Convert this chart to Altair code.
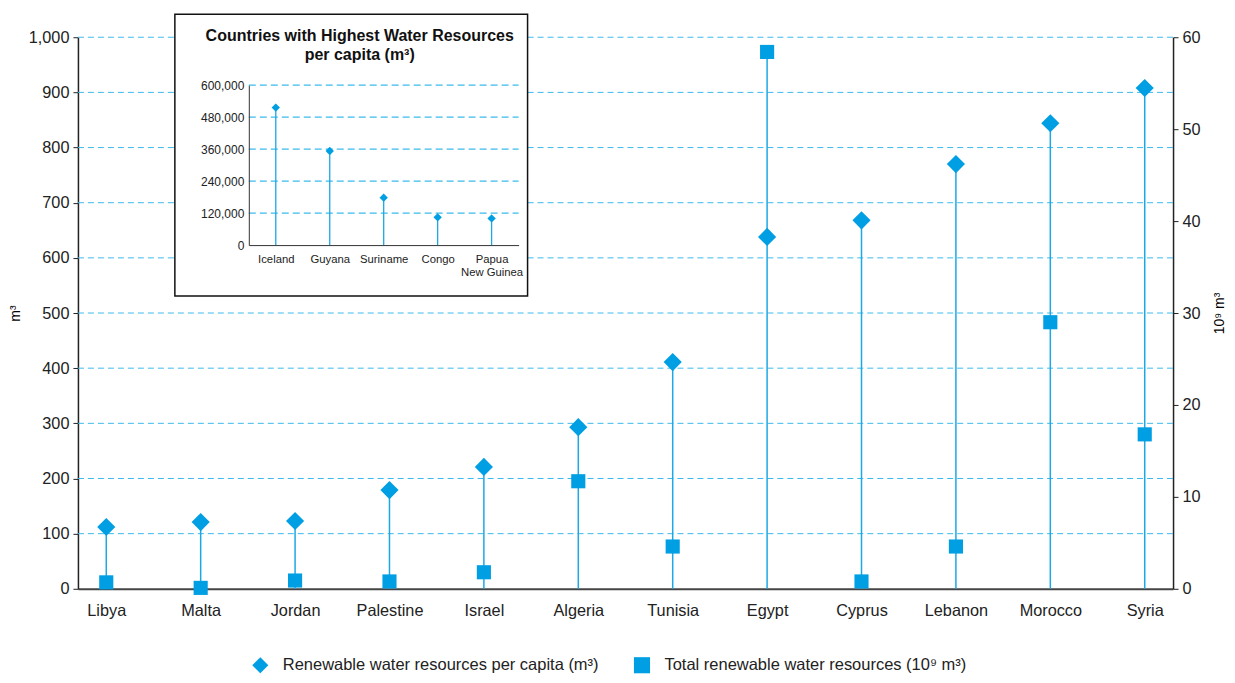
import altair as alt
import pandas as pd

# ---- main chart data ----
countries = ["Libya", "Malta", "Jordan", "Palestine", "Israel", "Algeria",
             "Tunisia", "Egypt", "Cyprus", "Lebanon", "Morocco", "Syria"]
per_capita = [112, 121, 123, 179, 221, 293, 411, 638, 668, 770, 844, 908]
total = [0.7, 0.1, 0.9, 0.8, 1.8, 11.7, 4.6, 58.4, 0.8, 4.6, 29.0, 16.8]
left_ticks = [0, 100, 200, 300, 400, 500, 600, 700, 800, 900, 1000]
right_ticks = [0, 10, 20, 30, 40, 50, 60]
series_names = ["Renewable water resources per capita (m\u00b3)",
                "Total renewable water resources (10\u2079 m\u00b3)"]

# ---- inset data ----
inset_countries = ["Iceland", "Guyana", "Suriname", "Congo", "Papua\nNew Guinea"]
inset_values = [516000, 353000, 178000, 104000, 100000]
inset_ticks = [0, 120000, 240000, 360000, 480000, 600000]
inset_title = "Countries with Highest Water Resources\nper capita (m\u00b3)"

LEFT_MAX, RIGHT_MAX = 1000, 60
W, H = 1096, 552
BLUE = "#009fe3"
STEM = "#1ba8e5"
GRID = "#3dbaec"
FONT = "Liberation Sans"
FS = 16.3

df = pd.DataFrame({"country": countries, "pc": per_capita, "total": total})
df["stem_top"] = [max(p, t / RIGHT_MAX * LEFT_MAX) for p, t in zip(per_capita, total)]
df["s1"] = series_names[0]
df["s2"] = series_names[1]

main_grid_df = pd.DataFrame({"tick": left_ticks[1:]})
inset_df = pd.DataFrame({"country": inset_countries, "value": inset_values})
grid_df = pd.DataFrame({"tick": inset_ticks[1:], "g0": 0, "g1": 1})

xmain = alt.Scale(type="point", domain=countries, padding=0.3)
lscale = alt.Scale(domain=[0, LEFT_MAX], nice=False)
shape_scale = alt.Scale(domain=series_names, range=["diamond", "square"])

# inset placement inside the plot area (pixels of the plot area)
IX = [171, 441]
IY = [208, 48]
ixs = alt.Scale(type="point", domain=inset_countries, range=IX, padding=0.5)
iys = alt.Scale(domain=[0, 600000], range=IY, nice=False)

main_grid = alt.Chart(main_grid_df).mark_rule(color=GRID, strokeDash=[6, 4], strokeWidth=1).encode(
    y=alt.Y("tick:Q", scale=lscale, axis=None),
)

stems = alt.Chart(df).mark_rule(color=STEM, strokeWidth=1.5).encode(
    x=alt.X("country:N", scale=xmain, sort=countries, axis=None),
    y=alt.Y("stem_top:Q", scale=lscale, axis=None),
    y2=alt.datum(0),
)

diamonds = alt.Chart(df).mark_point(filled=True, opacity=1, color=BLUE, size=330).encode(
    x=alt.X("country:N", scale=xmain, sort=countries,
            axis=alt.Axis(title=None, ticks=False, labelPadding=14, labelFontSize=FS,
                          labelColor="#222", domainColor="#444", domainWidth=2, labelAngle=0)),
    y=alt.Y("pc:Q", scale=lscale,
            axis=alt.Axis(title="m\u00b3", values=left_ticks, format=",d", orient="left",
                          titleAngle=270, titleFontWeight="normal", titleFontSize=14,
                          titlePadding=6, labelFontSize=FS, labelColor="#222",
                          tickSize=5, tickColor="#222", labelPadding=4,
                          domainColor="#222", domainWidth=1.5, grid=False)),
    shape=alt.Shape("s1:N", scale=shape_scale,
                    legend=alt.Legend(title=None, orient="none", direction="horizontal",
                                      legendX=174, legendY=620,
                                      labelFontSize=16.5, labelColor="#222", symbolSize=260,
                                      symbolFillColor=BLUE, symbolStrokeWidth=0, labelLimit=0,
                                      labelOffset=14, columnPadding=34)),
)

squares = alt.Chart(df).mark_point(filled=True, opacity=1, color=BLUE, size=200).encode(
    x=alt.X("country:N", scale=xmain, sort=countries, axis=None),
    y=alt.Y("total:Q", scale=alt.Scale(domain=[0, RIGHT_MAX], nice=False),
            axis=alt.Axis(title="10\u2079 m\u00b3", values=right_ticks, orient="right",
                          titleAngle=270, titleFontWeight="normal", titleFontSize=14,
                          titlePadding=26, labelFontSize=FS, labelColor="#222",
                          tickSize=5, tickColor="#222", labelPadding=4,
                          domainColor="#222", domainWidth=1.5, grid=False)),
    shape=alt.Shape("s2:N", scale=shape_scale),
)

box = alt.Chart(pd.DataFrame({"a": [0]})).mark_rect(
    fill="white", stroke="#111", strokeWidth=1.5
).encode(x=alt.value(97), x2=alt.value(450), y=alt.value(-23), y2=alt.value(259))

inset_grid = alt.Chart(grid_df).mark_rule(color=GRID, strokeDash=[7, 4], strokeWidth=1.3).encode(
    x=alt.X("g0:Q", scale=alt.Scale(domain=[0, 1], range=IX), axis=None),
    x2="g1:Q",
    y=alt.Y("tick:Q", scale=iys, axis=None),
)

inset_stems = alt.Chart(inset_df).mark_rule(color=STEM, strokeWidth=1.3).encode(
    x=alt.X("country:N", scale=ixs, sort=inset_countries, axis=None),
    y=alt.Y("value:Q", scale=iys, axis=None),
    y2=alt.datum(0),
)

inset_pts = alt.Chart(inset_df).mark_point(filled=True, opacity=1, color=BLUE, size=70,
                                           shape="diamond").encode(
    x=alt.X("country:N", scale=ixs, sort=inset_countries,
            axis=alt.Axis(title=None, orient="bottom", offset=208 - H, ticks=False,
                          labelPadding=8, labelFontSize=11.3, labelColor="#222", labelAngle=0,
                          labelExpr="split(datum.label, '\\n')", labelLineHeight=13,
                          domainColor="#333", domainWidth=1, zindex=2)),
    y=alt.Y("value:Q", scale=iys,
            axis=alt.Axis(title=None, orient="left", offset=-171, values=inset_ticks,
                          format=",d", ticks=False, labelPadding=5, labelFontSize=12,
                          labelColor="#222", domainColor="#333", domainWidth=1,
                          grid=False, zindex=2)),
)

inset_text = alt.Chart(pd.DataFrame({"a": [0]})).mark_text(
    text=inset_title, lineBreak="\n", fontSize=16, fontWeight="bold", color="#111",
    align="center", baseline="middle", lineHeight=19, font=FONT
).encode(x=alt.value(282), y=alt.value(-1))

chart = alt.layer(
    main_grid, stems, diamonds, squares, box, inset_grid, inset_stems, inset_pts, inset_text
).resolve_scale(
    x="independent", y="independent", shape="shared"
).properties(
    width=W, height=H, padding={"left": 0, "right": 0, "top": 5, "bottom": 0}
).configure(
    font=FONT
).configure_view(
    stroke=None
)

chart.save("out.html", embed_options={"renderer": "svg", "actions": False})
